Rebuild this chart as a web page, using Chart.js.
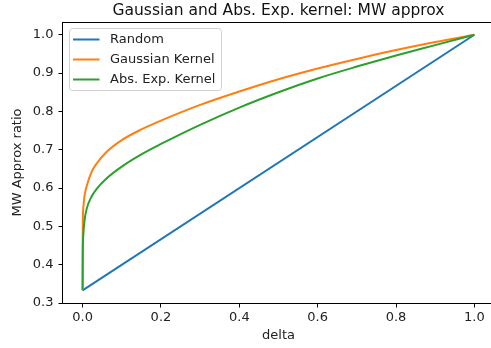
<!DOCTYPE html>
<html>
<head>
<meta charset="utf-8">
<script src="https://cdn.jsdelivr.net/npm/chart.js@4/dist/chart.umd.min.js"></script>
<style>
  html, body { margin: 0; padding: 0; overflow: hidden; background: #fff; }
  canvas { display: block; }
</style>
</head>
<body>
<canvas id="mwChart" width="494" height="348"></canvas>
<script>
// values
const delta = [0, 0.0005, 0.002, 0.005, 0.0102, 0.023, 0.036, 0.061, 0.1, 0.15, 0.2, 0.3, 0.4, 0.5, 0.6, 0.7, 0.8, 0.9, 1.0];
const gaussianRatio = [0.333, 0.50, 0.55, 0.58, 0.604, 0.642, 0.664, 0.694, 0.725, 0.753, 0.776, 0.817, 0.852, 0.884, 0.912, 0.937, 0.96, 0.981, 1.0];
const absExpRatio = [0.333, 0.43, 0.48, 0.515, 0.545, 0.578, 0.598, 0.625, 0.656, 0.688, 0.715, 0.765, 0.81, 0.85, 0.886, 0.917, 0.946, 0.973, 1.0];
const randomDelta = [0, 1.0];
const randomRatio = [0.333, 1.0];

const xTicks = [0, 0.2, 0.4, 0.6, 0.8, 1.0];
const yTicks = [0.3, 0.4, 0.5, 0.6, 0.7, 0.8, 0.9, 1.0];

const toPoints = (xs, ys) => xs.map((x, i) => ({ x: x, y: ys[i] }));

const FONT = "'DejaVu Sans', sans-serif";

// box around the whole plot area, like matplotlib spines
const framePlugin = {
    id: "frame",
    afterDatasetsDraw(chart) {
        const a = chart.chartArea;
        const ctx = chart.ctx;
        ctx.save();
        ctx.strokeStyle = "#000";
        ctx.lineWidth = 1;
        ctx.strokeRect(Math.round(a.left) - 0.5, Math.round(a.top) + 0.5,
            Math.round(a.right - a.left) + 1, Math.round(a.bottom - a.top));
        ctx.restore();
    }
};

// legend inside the axes, upper left
const insideLegend = {
    id: "insideLegend",
    afterDatasetsDraw(chart) {
        const ctx = chart.ctx;
        const a = chart.chartArea;
        const x0 = a.left + 6.5, y0 = a.top + 6.5;
        const w = 152, h = 62, r = 3;
        ctx.save();
        ctx.beginPath();
        ctx.roundRect(x0, y0, w, h, r);
        ctx.fillStyle = "rgba(255,255,255,0.8)";
        ctx.fill();
        ctx.strokeStyle = "#d0d0d0";
        ctx.lineWidth = 1;
        ctx.stroke();
        ctx.font = "13px " + FONT;
        ctx.textBaseline = "middle";
        chart.data.datasets.forEach((ds, i) => {
            const y = y0 + 11 + i * 20;
            ctx.beginPath();
            ctx.moveTo(x0 + 3.5, y);
            ctx.lineTo(x0 + 30, y);
            ctx.strokeStyle = ds.borderColor;
            ctx.lineWidth = 2;
            ctx.stroke();
            ctx.fillStyle = "#222";
            ctx.fillText(ds.label, x0 + 40.5, y);
        });
        ctx.restore();
    }
};

const ctx = document.getElementById("mwChart").getContext("2d");
const chart = new Chart(ctx, {
    type: "line",
    data: {
        datasets: [{
            label: "Random",
            data: toPoints(randomDelta, randomRatio),
            borderColor: "#1f77b4",
            order: 3
        }, {
            label: "Gaussian Kernel",
            data: toPoints(delta, gaussianRatio),
            borderColor: "#ff7f0e",
            cubicInterpolationMode: "monotone",
            order: 2
        }, {
            label: "Abs. Exp. Kernel",
            data: toPoints(delta, absExpRatio),
            borderColor: "#2ca02c",
            cubicInterpolationMode: "monotone",
            order: 1
        }]
    },
    options: {
        responsive: false,
        animation: false,
        events: [],
        elements: {
            point: { radius: 0 },
            line: { borderWidth: 2, fill: false }
        },
        layout: { padding: 0 },
        plugins: {
            legend: { display: false },
            tooltip: { enabled: false },
            title: {
                display: true,
                text: "Gaussian and Abs. Exp. kernel: MW approx",
                fullSize: false,
                color: "#111",
                font: { family: FONT, size: 15.5, weight: "normal" },
                padding: { top: 2, bottom: 1.4 }
            }
        },
        scales: {
            x: {
                type: "linear",
                min: -0.05,
                max: 1.05,
                afterBuildTicks: s => { s.ticks = xTicks.map(v => ({ value: v })); },
                afterFit: s => { s.height = 45; },
                grid: { drawOnChartArea: false, drawTicks: true, tickLength: 4.5, color: "#000" },
                border: { display: false },
                ticks: {
                    color: "#222",
                    padding: 2,
                    maxRotation: 0,
                    font: { family: FONT, size: 13 },
                    callback: v => Number(v).toFixed(1)
                },
                title: {
                    display: true,
                    text: "delta",
                    color: "#222",
                    font: { family: FONT, size: 13 },
                    padding: { top: 0, bottom: 5 }
                }
            },
            y: {
                type: "linear",
                min: 0.3,
                max: 1.0333,
                afterBuildTicks: s => { s.ticks = yTicks.map(v => ({ value: v })); },
                afterFit: s => { s.width = 63; },
                grid: { drawOnChartArea: false, drawTicks: true, tickLength: 4.5, color: "#000" },
                border: { display: false },
                ticks: {
                    color: "#222",
                    padding: 5,
                    font: { family: FONT, size: 13 },
                    callback: v => Number(v).toFixed(1)
                },
                title: {
                    display: true,
                    text: "MW Approx ratio",
                    color: "#222",
                    font: { family: FONT, size: 13 },
                    padding: { top: 10, bottom: 4 }
                }
            }
        }
    },
    plugins: [framePlugin, insideLegend]
});
</script>
</body>
</html>
